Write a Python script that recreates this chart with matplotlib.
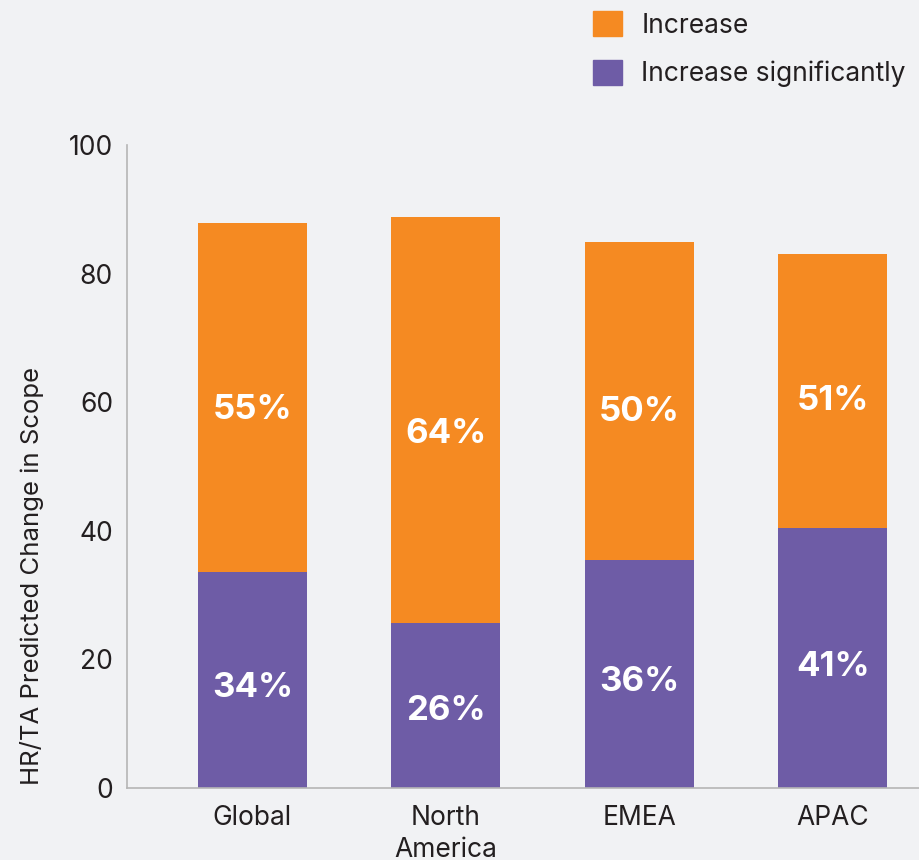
import numpy as np
import matplotlib.pyplot as plt
from matplotlib.patches import Patch

plt.rcParams['font.family'] = ['Inter', 'DejaVu Sans']

regions = ["Global", "North\nAmerica", "EMEA", "APAC"]
increase_sig = [33.6, 25.7, 35.5, 40.4]
increase = [54.3, 63.1, 49.4, 42.6]
sig_labels = ["34%", "26%", "36%", "41%"]
inc_labels = ["55%", "64%", "50%", "51%"]

orange = "#F58A22"
purple = "#6E5CA6"
bg = "#F1F2F4"
txt = "#231F20"

fig = plt.figure(figsize=(9.2, 8.6), dpi=100, facecolor=bg)
ax = fig.add_axes([0.138, 0.0837, 0.862, 0.7477], facecolor=bg)

x = np.arange(len(regions))
ax.bar(x, increase_sig, width=0.563, color=purple)
ax.bar(x, increase, width=0.563, bottom=increase_sig, color=orange)

# labels sit a little below the middle of each segment
for i in range(len(regions)):
    ax.text(x[i], increase_sig[i] * 0.465, sig_labels[i], ha='center', va='center',
            color='white', fontsize=25, fontweight='bold')
    ax.text(x[i], increase_sig[i] + increase[i] * 0.465, inc_labels[i], ha='center',
            va='center', color='white', fontsize=25, fontweight='bold')

ax.set_xlim(-0.648, 3.45)
ax.set_ylim(0, 100)
ax.set_yticks([0, 20, 40, 60, 80, 100])
ax.set_xticks(x)
ax.set_xticklabels(regions, linespacing=1.3)
ax.tick_params(axis='both', length=0, labelsize=19, labelcolor=txt)
ax.tick_params(axis='y', pad=10)
ax.tick_params(axis='x', pad=12)
for s in ['top', 'right']:
    ax.spines[s].set_visible(False)
for s in ['left', 'bottom']:
    ax.spines[s].set_color('#B5B5B5')
    ax.spines[s].set_linewidth(1.2)

ax.set_ylabel("HR/TA Predicted Change in Scope", fontsize=18.5, color=txt)
ax.yaxis.set_label_coords(-0.105, 0.33)

handles = [Patch(color=orange, label="Increase"),
           Patch(color=purple, label="Increase significantly")]
fig.legend(handles=handles, loc='upper left', bbox_to_anchor=(0.6355, 0.9965),
           frameon=False, fontsize=19, handlelength=1.1, handleheight=1.1,
           handletextpad=0.75, labelspacing=0.8, labelcolor=txt,
           borderpad=0.0, borderaxespad=0.3)

fig.savefig("out.png", dpi=100, facecolor=bg)
